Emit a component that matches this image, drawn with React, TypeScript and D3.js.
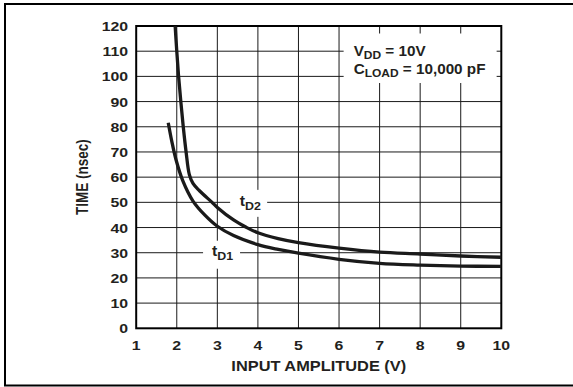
import React from "react";
import * as d3 from "d3";

const xTicks = [1, 2, 3, 4, 5, 6, 7, 8, 9, 10];
const yTicks = [0, 10, 20, 30, 40, 50, 60, 70, 80, 90, 100, 110, 120];

const tD2X = [1.96, 2.0, 2.045, 2.1, 2.16, 2.23, 2.31, 2.4, 2.56, 2.87, 3.0, 3.4, 3.7, 4.0, 4.5, 5.0, 6.0, 7.0, 8.0, 9.0, 10.0];
const tD2Y = [120, 110, 100, 90, 80, 70, 61, 57.5, 54.6, 50, 48, 43, 40.2, 37.9, 35.6, 34.0, 31.8, 30.2, 29.5, 28.7, 28.2];

const tD1X = [1.79, 1.88, 1.98, 2.15, 2.4, 2.7, 3.0, 3.4, 4.0, 4.5, 5.0, 6.0, 7.0, 8.0, 9.0, 10.0];
const tD1Y = [81.6, 74, 67, 58.5, 50.5, 44.8, 40.5, 36.8, 33.2, 31.3, 29.8, 27.4, 25.8, 25.1, 24.7, 24.6];

const FONT = "'Liberation Sans', Arial, Helvetica, sans-serif";
const INK = "#231f20";

export default function App() {
  const W = 573, H = 387;
  const left = 136.2, right = 501.3, top = 26, bottom = 328.3;
  const x = d3.scaleLinear().domain([1, 10]).range([left, right]);
  const y = d3.scaleLinear().domain([0, 120]).range([bottom, top]);

  const line = d3
    .line<[number, number]>()
    .x((d) => x(d[0]))
    .y((d) => y(d[1]))
    .curve(d3.curveCatmullRom.alpha(0.5));

  const d2 = line(tD2X.map((v, i) => [v, tD2Y[i]] as [number, number])) || "";
  const d1 = line(tD1X.map((v, i) => [v, tD1Y[i]] as [number, number])) || "";

  const l2 = { x: x(3.55), y: y(50) };
  const l1 = { x: x(2.87), y: y(30) };
  const ann = { x: x(6.36), y: y(110) };

  return (
    <svg
      width={W}
      height={H}
      style={{ position: "absolute", left: 0, top: 0, background: "#fff" }}
      fontFamily={FONT}
    >
      <rect x={0} y={0} width={W} height={H} fill="#fff" />
      <rect x={5} y={4} width={W + 10} height={381.5} fill="none" stroke="#000" strokeWidth={2} />

      {xTicks.slice(1, -1).map((t) => (
        <line key={"gx" + t} x1={x(t)} x2={x(t)} y1={top} y2={bottom} stroke="#1a1a1a" strokeWidth={1} />
      ))}
      {yTicks.slice(1, -1).map((t) => (
        <line key={"gy" + t} x1={left} x2={right} y1={y(t)} y2={y(t)} stroke="#1a1a1a" strokeWidth={1} />
      ))}

      <rect x={ann.x - 10} y={y(120) + 7.5} width={153} height={49.5} fill="#fff" />
      <rect x={l2.x - 9.5} y={l2.y - 12.5} width={37} height={27} fill="#fff" />
      <rect x={l1.x - 9} y={l1.y - 12} width={37} height={28} fill="#fff" />

      <rect x={left} y={top} width={right - left} height={bottom - top} fill="none" stroke="#000" strokeWidth={2} />

      <path d={d2} fill="none" stroke="#1a1a1a" strokeWidth={3.3} strokeLinejoin="round" />
      <path d={d1} fill="none" stroke="#1a1a1a" strokeWidth={3.3} strokeLinejoin="round" />

      {yTicks.map((t) => (
        <text
          key={"yl" + t}
          transform={`translate(${left - 8},${y(t) + 5}) scale(1.22,1)`}
          textAnchor="end"
          fontSize={13}
          fontWeight="bold"
          fill={INK}
        >
          {t}
        </text>
      ))}
      {xTicks.map((t) => (
        <text
          key={"xl" + t}
          transform={`translate(${x(t)},349.5) scale(1.22,1)`}
          textAnchor="middle"
          fontSize={13}
          fontWeight="bold"
          fill={INK}
        >
          {t}
        </text>
      ))}

      <text
        transform={`translate(${(left + right) / 2},371) scale(1.17,1)`}
        textAnchor="middle"
        fontSize={14}
        fontWeight="bold"
        fill={INK}
      >
        INPUT AMPLITUDE (V)
      </text>
      <text
        transform={`translate(87.5,${(top + bottom) / 2}) rotate(-90) scale(1,1.2)`}
        textAnchor="middle"
        fontSize={13.5}
        fontWeight="bold"
        fill={INK}
      >
        TIME (nsec)
      </text>

      <text transform={`translate(${ann.x},55.5) scale(1.09,1)`} fontSize={14} fontWeight="bold" fill={INK}>
        V<tspan fontSize={11} dy={3}>DD</tspan>
        <tspan dy={-3}> = 10V</tspan>
      </text>
      <text transform={`translate(${ann.x},73.5) scale(1.09,1)`} fontSize={14} fontWeight="bold" fill={INK}>
        C<tspan fontSize={11} dy={3}>LOAD</tspan>
        <tspan dy={-3}> = 10,000 pF</tspan>
      </text>

      <text transform={`translate(${l2.x},${l2.y + 3.5}) scale(1.13,1)`} fontSize={14} fontWeight="bold" fill={INK}>
        t<tspan fontSize={11} dy={4}>D2</tspan>
      </text>
      <text transform={`translate(${l1.x},${l1.y + 3.5}) scale(1.13,1)`} fontSize={14} fontWeight="bold" fill={INK}>
        t<tspan fontSize={11} dy={4}>D1</tspan>
      </text>
    </svg>
  );
}
